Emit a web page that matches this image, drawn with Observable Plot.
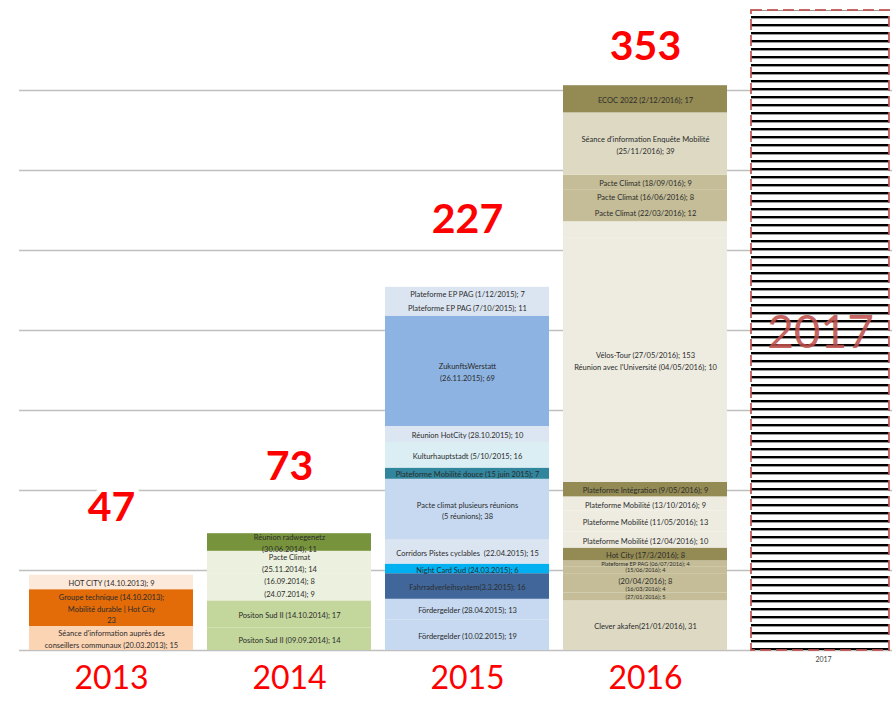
<!DOCTYPE html>
<html><head><meta charset="utf-8">
<script src="https://cdn.jsdelivr.net/npm/d3@7"></script>
<script src="https://cdn.jsdelivr.net/npm/@observablehq/plot@0.6"></script>
<style>body{margin:0;background:#fff} svg{display:block}</style>
</head><body><div id="chart"></div>
<script>
// ---- data ----
const years = ["2013", "2014", "2015", "2016", "2017"];
const totals = [47, 73, 227, 353];
const gridTicks = [0, 50, 100, 150, 200, 250, 300, 350];
const placeholderYear = ["2017"];
const placeholderValue = [400];

const segYear = [
  "2013","2013","2013",
  "2014","2014","2014","2014","2014","2014",
  "2015","2015","2015","2015","2015","2015","2015","2015","2015","2015","2015","2015",
  "2016","2016","2016","2016","2016","2016","2016","2016","2016","2016","2016","2016","2016","2016","2016","2016","2016","2016"
];
const segLabel = [
  "Séance d'information auprès des\nconseillers communaux (20.03.2013); 15",
  "Groupe technique (14.10.2013);\nMobilité durable | Hot City\n23",
  "HOT CITY (14.10.2013); 9",
  "Positon Sud II (09.09.2014); 14",
  "Positon Sud II (14.10.2014); 17",
  "(24.07.2014); 9",
  "(16.09.2014); 8",
  "Pacte Climat\n(25.11.2014); 14",
  "Réunion radwegenetz\n(30.06.2014); 11",
  "Fördergelder (10.02.2015); 19",
  "Fördergelder (28.04.2015); 13",
  "Fahrradverleihsystem(3.3.2015); 16",
  "Night Card Sud (24.03.2015); 6",
  "Corridors Pistes cyclables  (22.04.2015); 15",
  "Pacte climat plusieurs réunions\n(5 réunions); 38",
  "Plateforme Mobilité douce (15 juin 2015); 7",
  "Kulturhauptstadt (5/10/2015; 16",
  "Réunion HotCity (28.10.2015); 10",
  "ZukunftsWerstatt\n(26.11.2015); 69",
  "Plateforme EP PAG (7/10/2015); 11",
  "Plateforme EP PAG (1/12/2015); 7",
  "Clever akafen(21/01/2016), 31",
  "(27/01/2016); 5",
  "(16/03/2016); 4",
  "(20/04/2016); 8",
  "(15/06/2016); 4",
  "Plateforme EP PAG (06/07/2016); 4",
  "Hot City (17/3/2016); 8",
  "Plateforme Mobilité (12/04/2016); 10",
  "Plateforme Mobilité (11/05/2016); 13",
  "Plateforme Mobilité (13/10/2016); 9",
  "Plateforme Intégration (9/05/2016); 9",
  "Vélos-Tour (27/05/2016); 153\nRéunion avec l'Université (04/05/2016); 10",
  "",
  "Pacte Climat (22/03/2016); 12",
  "Pacte Climat (16/06/2016); 8",
  "Pacte Climat (18/09/016); 9",
  "Séance d'information Enquête Mobilité\n(25/11/2016); 39",
  "ECOC 2022 (2/12/2016); 17"
];
const segValue = [
  15, 23, 9,
  14, 17, 9, 8, 14, 11,
  19, 13, 16, 6, 15, 38, 7, 16, 10, 69, 11, 7,
  31, 5, 4, 8, 4, 4, 8, 10, 13, 9, 9, 153, 10, 12, 8, 9, 39, 17
];

// ---- style: fill of each segment (same order) ----
const segFill = [
  "#fbd4b4", "#e36c09", "#fde9d9",
  "#c3d69b", "#c3d69b", "#ebf1de", "#ebf1de", "#ebf1de", "#77933c",
  "#c6d9f1", "#c6d9f1", "#41679a", "#00b0f0", "#dbe5f1", "#c6d9f1", "#31859c", "#dbeef4", "#dce6f2", "#8db3e2", "#dbe5f1", "#dbe5f1",
  "#ddd9c3", "#c4bd97", "#c4bd97", "#c4bd97", "#c4bd97", "#c4bd97", "#948a54", "#eeece1", "#eeece1", "#eeece1", "#948a54", "#eeece1", "#eeece1", "#c4bd97", "#c4bd97", "#c4bd97", "#ddd9c3", "#948a54"
];

// ---- build stacked rows ----
const rows = segLabel.map((label, i) => ({year: segYear[i], label, value: segValue[i], fill: segFill[i]}));
const base = {};
rows.forEach(r => {
  const b = base[r.year] || 0;
  r.y1 = b; r.y2 = b + r.value; r.mid = (r.y1 + r.y2) / 2;
  base[r.year] = r.y2;
});
const totalRows = totals.map((t, i) => ({year: years[i], total: t}));
const placeholder = placeholderYear.map((y, i) => ({year: y, value: placeholderValue[i]}));

const font = "Lato, 'Liberation Sans', sans-serif";

const svg = Plot.plot({
  width: 892,
  height: 701,
  marginLeft: 19,
  marginRight: 0,
  marginTop: 10,
  marginBottom: 51,
  style: {fontFamily: font, background: "#fff"},
  x: {type: "band", domain: years, range: [29, 905], paddingInner: 0.0787, paddingOuter: 0, axis: null},
  y: {domain: [0, 400], axis: null},
  color: {type: "identity"},
  marks: [
    Plot.ruleY(gridTicks, {stroke: "#bfbfbf", strokeWidth: 1.5}),
    Plot.barY(rows, {x: "year", y1: "y1", y2: "y2", fill: "fill"}),
    Plot.text(rows.filter(d => d.label && d.value >= 6), {x: "year", y: "mid", text: "label", fontSize: 7.5, lineHeight: 1.55, fill: "#2b2b2b"}),
    Plot.text(rows.filter(d => d.label && d.value < 6), {x: "year", y: "mid", text: "label", fontSize: 5.6, fill: "#2b2b2b"}),
    Plot.barY(placeholder, {x: "year", y: "value", fill: "url(#hatch)", stroke: "#c0504d", strokeWidth: 2, strokeOpacity: 0.85, strokeDasharray: "11,5", insetLeft: 10, insetRight: 16}),
    Plot.text(placeholder, {x: "year", y: d => d.value / 2, text: "year", fontSize: 46, fill: "#c0504d", fillOpacity: 0.9, dx: -3, dy: 3}),
    Plot.text(totalRows.filter(d => d.total < 300), {x: "year", y: "total", text: d => String(d.total), fontSize: 41, fontWeight: "bold", fill: "#ff0000", stroke: "white", strokeWidth: 10, dy: -67}),
    Plot.text(totalRows.filter(d => d.total >= 300), {x: "year", y: "total", text: d => String(d.total), fontSize: 41, fontWeight: "bold", fill: "#ff0000", stroke: "white", strokeWidth: 10, dy: -39}),
    Plot.text(years.slice(0, 4), {x: d => d, frameAnchor: "bottom", text: d => d, fontSize: 32, fill: "#ff0000", dy: 38}),
    Plot.text(placeholderYear, {x: d => d, frameAnchor: "bottom", text: d => d, fontSize: 7, fill: "#444", dy: 11})
  ]
});

// hatch pattern for the 2017 placeholder
const ns = "http://www.w3.org/2000/svg";
const defs = document.createElementNS(ns, "defs");
const pat = document.createElementNS(ns, "pattern");
pat.setAttribute("id", "hatch");
pat.setAttribute("patternUnits", "userSpaceOnUse");
pat.setAttribute("width", "8");
pat.setAttribute("height", "8");
const bg = document.createElementNS(ns, "rect");
bg.setAttribute("width", "8"); bg.setAttribute("height", "8"); bg.setAttribute("fill", "#fff");
const ln = document.createElementNS(ns, "rect");
ln.setAttribute("y", "0"); ln.setAttribute("width", "8"); ln.setAttribute("height", "2.4"); ln.setAttribute("fill", "#000");
pat.appendChild(bg); pat.appendChild(ln);
defs.appendChild(pat);
svg.insertBefore(defs, svg.firstChild);

document.getElementById("chart").appendChild(svg);
</script>
</body></html>
